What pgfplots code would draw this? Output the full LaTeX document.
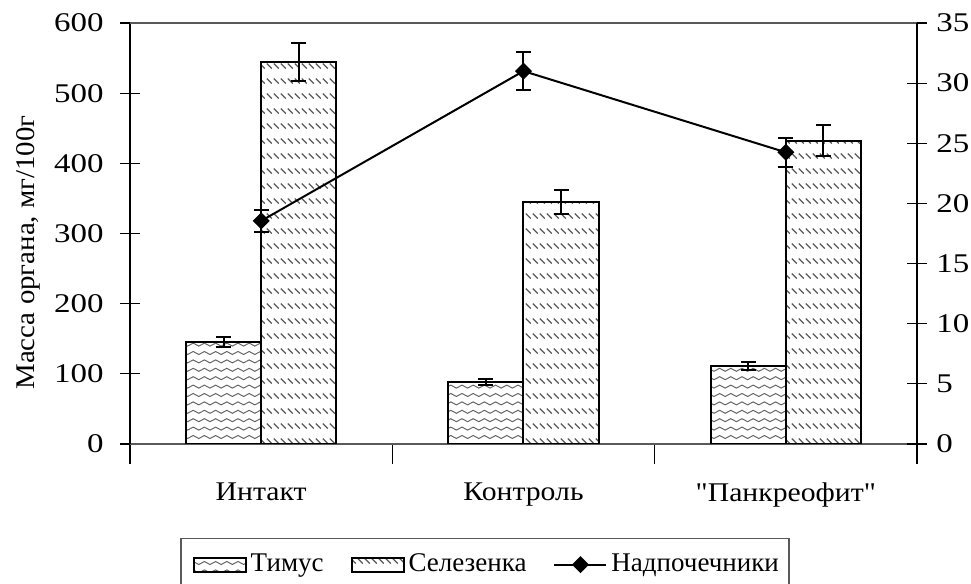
\documentclass[border=0pt]{standalone}
\usepackage{fontspec}
\setmainfont{Liberation Serif}
\newfontfamily\tickfont[FakeStretch=1.22]{Liberation Serif}
\newfontfamily\catfont[FakeStretch=1.1]{Liberation Serif}
\newfontfamily\labfont[FakeStretch=1.07]{Liberation Serif}
\usepackage{pgfplots}
\pgfplotsset{compat=1.18}
\usetikzlibrary{patterns}

\pgfdeclarepatternformonly{wavy}{\pgfqpoint{-0.5pt}{-0.5pt}}{\pgfqpoint{6pt}{4.7pt}}{\pgfqpoint{5.6pt}{4.2pt}}{%
  \pgfsetlinewidth{0.5pt}%
  \pgfpathmoveto{\pgfqpoint{0pt}{2.1pt}}%
  \pgfpathcurveto{\pgfqpoint{0.95pt}{3.1pt}}{\pgfqpoint{1.85pt}{3.1pt}}{\pgfqpoint{2.8pt}{2.1pt}}%
  \pgfpathcurveto{\pgfqpoint{3.75pt}{1.1pt}}{\pgfqpoint{4.65pt}{1.1pt}}{\pgfqpoint{5.6pt}{2.1pt}}%
  \pgfusepath{stroke}%
}
\pgfdeclarepatternformonly{diagdash}{\pgfqpoint{-0.5pt}{-0.5pt}}{\pgfqpoint{4pt}{8pt}}{\pgfqpoint{3.5pt}{7.5pt}}{%
  \pgfsetlinewidth{0.6pt}%
  \pgfpathmoveto{\pgfqpoint{0.4pt}{5.2pt}}%
  \pgfpathlineto{\pgfqpoint{2.9pt}{2.7pt}}%
  \pgfusepath{stroke}%
}

\pgfplotsset{
  common/.style={
    scale only axis, width=393.5pt, height=210.5pt,
    at={(0pt,0pt)}, anchor=south west,
    xmin=-0.5, xmax=2.5,
    tick align=center, major tick length=10pt,
    /pgf/number format/assume math mode=true,
    tick style={line width=0.6pt, black},
    yticklabel style={font=\tickfont},
  },
  mylinelegend/.style={legend image code/.code={\draw[mark repeat=2,mark phase=2,##1] plot coordinates {(0pt,0pt)(13pt,0pt)(26pt,0pt)};}},
  myerr/.style={error bars/.cd, y dir=both, y explicit,
    error bar style={line width=1pt, black},
    error mark options={rotate=90, mark size=3.75pt, line width=1pt, black}},
}

\begin{document}
\fontsize{13.5}{16}\selectfont
\begin{tikzpicture}
\useasboundingbox (-65pt,-70pt) rectangle (420.5pt,222pt);
\begin{axis}[common,
  ymin=0, ymax=600, ytick={0,100,...,600},
  axis x line*=bottom, axis y line*=left,
  x axis line style={gray!70!black, line width=0.7pt},
  y axis line style={black, line width=0.7pt},
  xtick={-0.5,0.5,1.5,2.5}, xticklabels={},
  extra x ticks={0,1,2},
  extra x tick labels={Интакт,Контроль,{"Панкреофит"}},
  extra x tick style={major tick length=0pt, xticklabel style={yshift=-14.5pt, font=\catfont}},
  yticklabel style={xshift=-3.5pt},
  ylabel={Масса органа, мг/100г},
  ylabel style={at={(axis description cs:-0.1285,0.455)}, anchor=center, font=\labfont},
  ybar=0pt, bar width=0.286,
]
\addplot[draw=black, line width=1pt, pattern=wavy, pattern color=black!60, myerr]
  coordinates {(0,145.5) +- (0,7.5) (1,88) +- (0,4) (2,111) +- (0,6)};
\addplot[draw=black, line width=1pt, pattern=diagdash, pattern color=black!65, myerr]
  coordinates {(0,544.5) +- (0,27) (1,345) +- (0,17) (2,432.5) +- (0,21.5)};
\end{axis}
\begin{axis}[common,
  ymin=0, ymax=35, ytick={0,5,...,35},
  axis x line*=top, axis y line*=right,
  x axis line style={gray!70!black, line width=0.7pt},
  y axis line style={black, line width=0.7pt},
  xtick=\empty,
  yticklabel style={xshift=0pt},
  legend style={at={(axis description cs:0.451,-0.2233)}, anchor=north,
    draw=gray!70!black, line width=0.7pt, legend columns=3, inner ysep=5.5pt,
    /tikz/every even column/.append style={column sep=11.5pt}},
]
\addlegendimage{legend image code/.code={\path (-3pt,0pt); \draw[draw=black,line width=1pt,pattern=wavy,pattern color=black!60] (0pt,-3.5pt) rectangle (26pt,3.5pt);}}
\addlegendentry{Тимус}
\addlegendimage{legend image code/.code={\draw[draw=black,line width=1pt,pattern=diagdash,pattern color=black!65] (0pt,-3.5pt) rectangle (26pt,3.5pt);}}
\addlegendentry{Селезенка}
\addplot[black, line width=1pt, mark=square*, mark size=2.5pt, mark options={rotate=45, solid}, mylinelegend, myerr]
  coordinates {(0,18.55) +- (0,0.93) (1,31) +- (0,1.55) (2,24.25) +- (0,1.2)};
\addlegendentry{Надпочечники}
\end{axis}
\end{tikzpicture}
\end{document}
